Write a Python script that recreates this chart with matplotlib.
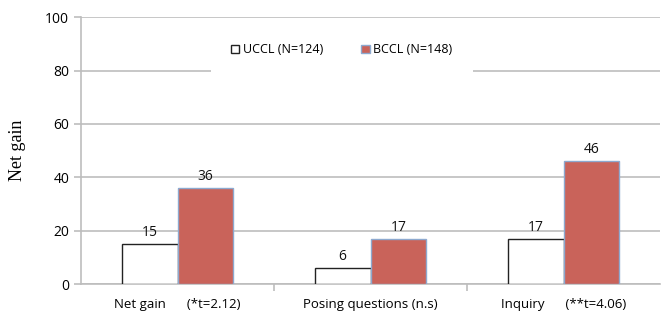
import matplotlib
matplotlib.use("Agg")
import matplotlib.pyplot as plt
import numpy as np

categories = ["Net gain      (*t=2.12)", "Posing questions (n.s)", "Inquiry      (**t=4.06)"]
uccl = [15, 6, 17]
bccl = [36, 17, 46]
series_names = ["UCCL (N=124)", "BCCL (N=148)"]
yticks = [0, 20, 40, 60, 80, 100]

plt.rcParams['font.family'] = ['Open Sans', 'DejaVu Sans']
fig = plt.figure(figsize=(6.62, 3.17), dpi=100)
ax = fig.add_axes([0.1224, 0.104, 0.8746, 0.842])

x = np.arange(len(categories))
w = 0.29
b1 = ax.bar(x - w/2, uccl, w, color='white', edgecolor='#222222', linewidth=1.0, label=series_names[0], zorder=3)
b2 = ax.bar(x + w/2, bccl, w, color='#C9635A', edgecolor='#8DA9CF', linewidth=1.0, label=series_names[1], zorder=3)
for rects, vals in ((b1, uccl), (b2, bccl)):
    for r, v in zip(rects, vals):
        ax.text(r.get_x() + r.get_width()/2, v + 1.5, str(v), ha='center', va='bottom', fontsize=10, color='#111111')

ax.set_xlim(-0.5, 2.5)
ax.set_ylim(0, 100)
ax.set_yticks(yticks)
ax.yaxis.grid(True, color='#BDBDBD', linewidth=1.2, zorder=0)
ax.set_axisbelow(True)
ax.set_xticks(x)
ax.set_xticklabels(categories, fontsize=9.5)
ax.tick_params(axis='x', length=0, pad=10)
ax.set_xticks([0.5, 1.5], minor=True)
ax.tick_params(axis='x', which='minor', length=5, color='#BDBDBD', width=1.2)
ax.tick_params(axis='y', length=5, color='#BDBDBD', width=1.2, labelsize=10)
for s in ['top', 'right']:
    ax.spines[s].set_visible(False)
for s in ['left', 'bottom']:
    ax.spines[s].set_color('#BDBDBD')
    ax.spines[s].set_linewidth(1.2)
ax.set_ylabel("Net gain", family='Liberation Serif', fontsize=13, labelpad=14)

leg = ax.legend(loc='upper center', bbox_to_anchor=(0.45, 1.0), ncol=2, frameon=True,
                fontsize=9, handlelength=0.7, handleheight=0.7, columnspacing=3.0,
                borderpad=1.6, handletextpad=0.3, fancybox=False, edgecolor='white', framealpha=1)
leg.get_frame().set_linewidth(0)
fig.savefig("out.png", dpi=100)
